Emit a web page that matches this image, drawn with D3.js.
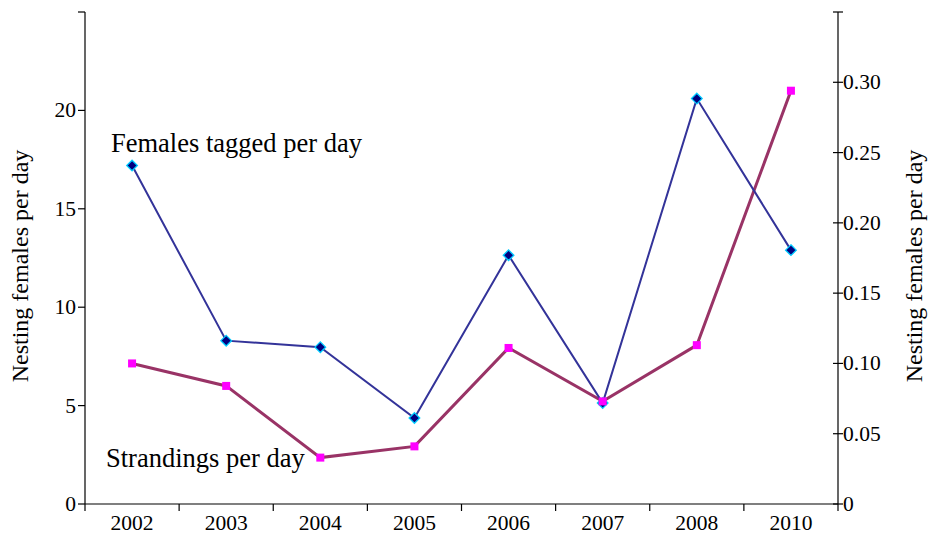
<!DOCTYPE html>
<html><head><meta charset="utf-8">
<script src="https://cdn.jsdelivr.net/npm/d3@7"></script>
<style>
body{margin:0;background:#fff;}
svg{display:block;font-family:"Liberation Serif","Times New Roman",serif;}
</style></head>
<body>
<svg id="chart" width="928" height="535"></svg>
<script>
const years = ["2002","2003","2004","2005","2006","2007","2008","2010"];
const femalesTagged = [17.2, 8.3, 7.97, 4.37, 12.64, 5.13, 20.6, 12.9];
const strandings = [0.100, 0.084, 0.033, 0.041, 0.111, 0.073, 0.113, 0.294];
const leftTicks = [0, 5, 10, 15, 20, 25];
const rightTicks = [0, 0.05, 0.10, 0.15, 0.20, 0.25, 0.30, 0.35];
const leftTitle = "Nesting females per day";
const rightTitle = "Nesting females per day";
const femalesLabel = "Females tagged per day";
const strandingsLabel = "Strandings per day";

const svg = d3.select("#chart");
const L = 85, R = 838, T = 12, B = 504;
const tickFont = 21.5;

const x = d3.scaleBand().domain(years).range([L, R]).padding(0);
const yL = d3.scaleLinear().domain([0, 25]).range([B, T]);
const yR = d3.scaleLinear().domain([0, 0.35]).range([B, T]);

// bottom axis: ticks at band boundaries
const gx = svg.append("g").attr("transform", `translate(0,${B})`);
gx.append("line").attr("x1", L).attr("x2", R).attr("stroke", "#000").attr("stroke-width", 1.2);
const bounds = years.map(y => x(y)).concat([R]);
gx.selectAll("line.tk").data(bounds).join("line").attr("class","tk")
  .attr("x1", d => d).attr("x2", d => d).attr("y1", 0).attr("y2", 7)
  .attr("stroke", "#000").attr("stroke-width", 1.2);
gx.selectAll("text").data(years).join("text")
  .attr("x", d => x(d) + x.bandwidth()/2).attr("y", 25.5)
  .attr("text-anchor", "middle").attr("font-size", tickFont).text(d => d);

// left axis
const gl = svg.append("g").attr("transform", `translate(${L},0)`);
gl.append("line").attr("y1", T).attr("y2", B).attr("stroke", "#000").attr("stroke-width", 1.2);
gl.selectAll("line.tk").data(leftTicks).join("line").attr("class","tk")
  .attr("x1", -7).attr("x2", 0).attr("y1", d => yL(d)).attr("y2", d => yL(d))
  .attr("stroke", "#000").attr("stroke-width", 1.2);
gl.selectAll("text").data(leftTicks.filter(d => d < 25)).join("text")
  .attr("x", -9).attr("y", d => yL(d) + 7).attr("text-anchor", "end")
  .attr("font-size", tickFont).text(d => d);

// right axis
const gr = svg.append("g").attr("transform", `translate(${R},0)`);
gr.append("line").attr("y1", T).attr("y2", B).attr("stroke", "#000").attr("stroke-width", 1.2);
gr.selectAll("line.tk").data(rightTicks).join("line").attr("class","tk")
  .attr("x1", -5).attr("x2", 5).attr("y1", d => yR(d)).attr("y2", d => yR(d))
  .attr("stroke", "#000").attr("stroke-width", 1.2);
gr.selectAll("text").data(rightTicks.filter(d => d < 0.35)).join("text")
  .attr("x", 5).attr("y", d => yR(d) + 7).attr("text-anchor", "start")
  .attr("font-size", tickFont).text(d => d === 0 ? "0" : d3.format(".2f")(d));

// axis titles
svg.append("text").attr("transform", `translate(28,266) rotate(-90)`)
  .attr("text-anchor", "middle").attr("font-size", 24).text(leftTitle);
svg.append("text").attr("transform", `translate(922,266) rotate(-90)`)
  .attr("text-anchor", "middle").attr("font-size", 24).text(rightTitle);

const cx = d => x(d) + x.bandwidth()/2;

// strandings line
svg.append("path").datum(strandings)
  .attr("d", d3.line().x((d,i) => cx(years[i])).y(d => yR(d)))
  .attr("fill", "none").attr("stroke", "#993366").attr("stroke-width", 3);

// females line
svg.append("path").datum(femalesTagged)
  .attr("d", d3.line().x((d,i) => cx(years[i])).y(d => yL(d)))
  .attr("fill", "none").attr("stroke", "#333399").attr("stroke-width", 2);

// females markers (diamonds)
svg.selectAll("path.dm").data(femalesTagged).join("path").attr("class","dm")
  .attr("d", d3.symbol(d3.symbolDiamond2, 72)())
  .attr("transform", (d,i) => `translate(${cx(years[i])},${yL(d)})`)
  .attr("fill", "#000080").attr("stroke", "#00ccff").attr("stroke-width", 1.3);

// strandings markers (squares)
svg.selectAll("rect.sq").data(strandings).join("rect").attr("class","sq")
  .attr("x", (d,i) => cx(years[i]) - 4).attr("y", d => yR(d) - 4)
  .attr("width", 8).attr("height", 8).attr("fill", "#ff00ff");

// series labels
svg.append("text").attr("x", 111).attr("y", 152).attr("font-size", 26.5).text(femalesLabel);
svg.append("text").attr("x", 106).attr("y", 467).attr("font-size", 26.5).text(strandingsLabel);
</script>
</body></html>
